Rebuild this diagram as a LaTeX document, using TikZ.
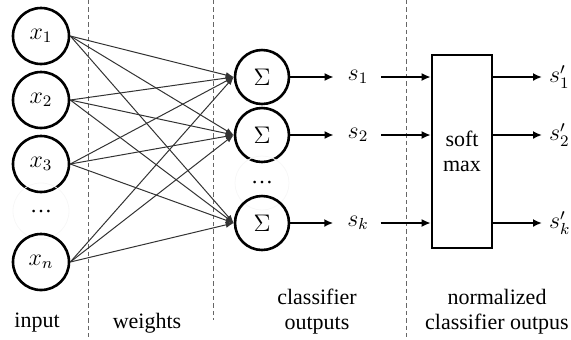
\documentclass[tikz,border=0pt]{standalone}
\usepackage{fontspec}
\setmainfont{Liberation Serif}
\usetikzlibrary{arrows.meta}

\begin{document}
\begin{tikzpicture}[x=0.5pt, y=-0.5pt, font=\fontsize{11}{12.5}\selectfont,
	neuron/.style={draw, circle, line width=1.3pt, minimum size=28pt, inner sep=0pt, font=\fontsize{12}{14}\selectfont},
	ghost/.style={draw=black!3, circle, minimum size=28pt, inner sep=0pt},
	wgt/.style={black!80, line width=0.5pt, -{Latex[length=4pt,width=3pt]}},
	outarr/.style={line width=1.3pt, -{Latex[length=4.5pt,width=4pt]}},
	mth/.style={font=\fontsize{12}{14}\selectfont},
	sep/.style={black!60, line width=0.5pt, dash pattern=on 2.2pt off 1.5pt}]% {{{ softmax classifier
	\useasboundingbox (0,0) rectangle (571,339);

	% separators
	\draw[sep] (88,0) -- (88,339);
	\draw[sep] (213,0) -- (213,320);
	\draw[sep] (406,0) -- (406,339);

	% input layer
	\node[neuron] (x1) at (41,36){$x_1$};
	\node[neuron] (x2) at (41,100){$x_2$};
	\node[neuron] (x3) at (41,164){$x_3$};
	\node[ghost] (xd) at (41,211){\ldots};
	\node[neuron] (xn) at (41,262){$x_n$};

	% sums
	\node[neuron, minimum size=27pt] (sig1) at (262,77){$\Sigma$};
	\node[neuron, minimum size=27pt] (sig2) at (262,135){$\Sigma$};
	\node[ghost, minimum size=27pt] (sigd) at (262,183){\ldots};
	\node[neuron, minimum size=27pt] (sigk) at (262,223){$\Sigma$};

	\draw[wgt] (x1.east) -- (sig1.west);
	\draw[wgt] (x1.east) -- (sig2.west);
	\draw[wgt] (x1.east) -- (sigk.west);
	\draw[wgt] (x2.east) -- (sig1.west);
	\draw[wgt] (x2.east) -- (sig2.west);
	\draw[wgt] (x2.east) -- (sigk.west);
	\draw[wgt] (x3.east) -- (sig1.west);
	\draw[wgt] (x3.east) -- (sig2.west);
	\draw[wgt] (x3.east) -- (sigk.west);
	\draw[wgt] (xn.east) -- (sig1.west);
	\draw[wgt] (xn.east) -- (sig2.west);
	\draw[wgt] (xn.east) -- (sigk.west);

	% classifier outputs
	\node[mth] (s1) at (358,77){$s_1$};
	\node[mth] (s2) at (358,135){$s_2$};
	\node[mth] (sk) at (358,223){$s_k$};

	\node[draw, line width=1.3pt, minimum width=30pt, minimum height=96.5pt, align=center] (box) at (462,151.5){soft\\max};

	\draw[outarr, shorten >=3.5pt] (sig1) -- (s1);
	\draw[outarr, shorten >=3.5pt] (sig2) -- (s2);
	\draw[outarr, shorten >=3.5pt] (sigk) -- (sk);
	\draw[outarr, shorten <=3pt] (s1) -- (s1 -| box.west);
	\draw[outarr, shorten <=3pt] (s2) -- (s2 -| box.west);
	\draw[outarr, shorten <=2.5pt] (sk) -- (sk -| box.west);

	% normalized outputs
	\node[mth, anchor=west] (o1) at (542,77){$s_1'$};
	\node[mth, anchor=west] (o2) at (542,135){$s_2'$};
	\node[mth, anchor=west] (ok) at (542,223){$s_k'$};
	\draw[outarr] (box.east |- o1) -- (o1);
	\draw[outarr] (box.east |- o2) -- (o2);
	\draw[outarr] (box.east |- ok) -- (ok);

	% captions
	\node (lin) at (37,323){input};
	\node (lwt) at (147,323){weights};
	\node[align=center] (lcl) at (317,312){classifier\\outputs};
	\node[align=center] (lnm) at (497,312){normalized\\classifier outpus};
\end{tikzpicture}
\end{document}
